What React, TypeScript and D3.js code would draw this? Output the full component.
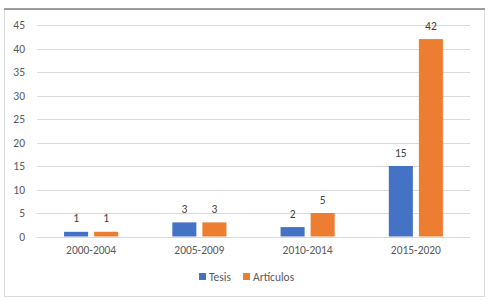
import React from "react";
import * as d3 from "d3";

const categories = ["2000-2004", "2005-2009", "2010-2014", "2015-2020"];
const seriesNames = ["Tesis", "Artículos"];
const tesis = [1, 3, 2, 15];
const articulos = [1, 3, 5, 42];
const yTicks = [0, 5, 10, 15, 20, 25, 30, 35, 40, 45];
const colors = ["#4472C4", "#ED7D31"];

const W = 491;
const H = 301;
const FONT = "Carlito, Calibri, 'Liberation Sans', Arial, sans-serif";

export default function App() {
  const x = d3.scaleBand<string>().domain(categories).range([37, 470]).paddingInner(0.5).paddingOuter(0.25);
  const xs = d3.scaleBand<string>().domain(seriesNames).range([0, x.bandwidth()]).paddingInner(0.2);
  const y = d3.scaleLinear().domain([0, 45]).range([236.5, 25]);
  const series = [tesis, articulos];

  return (
    <svg width={W} height={H} style={{ position: "absolute", left: 0, top: 0, background: "#fff" }} fontFamily={FONT}>
      <rect x={0} y={0} width={W} height={H} fill="#fff" />
      <rect x={4.5} y={9.5} width={480} height={287} fill="#fff" stroke="#d9d9d9" />
      <line x1={4} x2={485} y1={9} y2={9} stroke="#808080" strokeWidth={1.5} />
      {yTicks.map((t) => (
        <g key={t}>
          <line x1={37} x2={470} y1={Math.round(y(t)) + 0.5} y2={Math.round(y(t)) + 0.5} stroke="#d9d9d9" />
          <text x={25} y={y(t)} dy="0.35em" textAnchor="end" fontSize={11.5} fill="#595959">{t}</text>
        </g>
      ))}
      {categories.map((c, i) => (
        <g key={c}>
          {series.map((s, j) => {
            const bx = (x(c) ?? 0) + (xs(seriesNames[j]) ?? 0);
            const top = y(s[i]);
            return (
              <g key={j}>
                <rect x={bx} y={top} width={xs.bandwidth()} height={y(0) - top} fill={colors[j]} />
                <text x={bx + xs.bandwidth() / 2} y={top - 9.5} textAnchor="middle" fontSize={11.5} fill="#404040">{s[i]}</text>
              </g>
            );
          })}
          <text x={(x(c) ?? 0) + x.bandwidth() / 2} y={250} dy="0.35em" textAnchor="middle" fontSize={11.5} fill="#595959">{c}</text>
        </g>
      ))}
      <g>
        <rect x={199} y={273} width={7} height={7} fill={colors[0]} />
        <text x={209} y={276.5} dy="0.35em" fontSize={11.5} fill="#595959">{seriesNames[0]}</text>
        <rect x={243} y={273} width={7} height={7} fill={colors[1]} />
        <text x={253} y={276.5} dy="0.35em" fontSize={11.5} fill="#595959">{seriesNames[1]}</text>
      </g>
    </svg>
  );
}
